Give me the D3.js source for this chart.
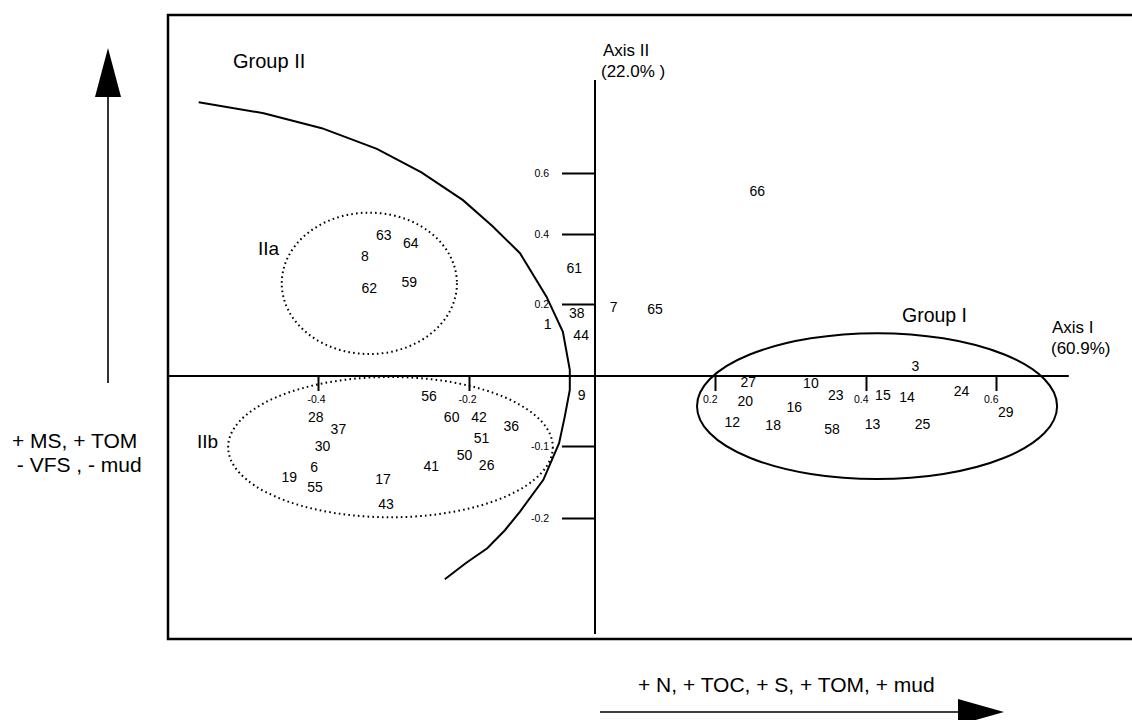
<!DOCTYPE html>
<html><head><meta charset="utf-8">
<script src="https://cdn.jsdelivr.net/npm/d3@7"></script>
<style>
body{margin:0;background:#fff}
svg{display:block}
text{font-family:"Liberation Sans",Arial,Helvetica,sans-serif;fill:#000}
</style>
</head><body>
<svg id="chart" width="1132" height="720"></svg>
<script>
// ---- data (ordination scores) ----
const sampleIds = ["56","28","37","30","6","19","55","17","43","41","60","42","51","36","50","26",
  "3","27","10","20","23","15","14","24","16","29","12","18","58","13","25",
  "63","64","8","62","59",
  "61","7","65","38","1","44","9","66"];
const axisIScores = [-0.253,-0.403,-0.373,-0.394,-0.405,-0.438,-0.404,-0.314,-0.310,-0.250,-0.223,-0.184,-0.180,-0.133,-0.206,-0.172,
  0.476,0.244,0.327,0.240,0.360,0.426,0.463,0.547,0.305,0.615,0.223,0.277,0.355,0.410,0.487,
  -0.313,-0.277,-0.338,-0.332,-0.279,
  -0.033,0.031,0.100,-0.029,-0.075,-0.022,-0.021,0.256];
const axisIIScores = [-0.029,-0.059,-0.076,-0.100,-0.129,-0.143,-0.157,-0.146,-0.181,-0.128,-0.058,-0.059,-0.088,-0.072,-0.1125,-0.126,
  0.028,-0.008,-0.010,-0.036,-0.027,-0.027,-0.030,-0.021,-0.044,-0.052,-0.066,-0.070,-0.076,-0.069,-0.069,
  0.397,0.373,0.337,0.245,0.264,
  0.302,0.193,0.185,0.176,0.144,0.114,-0.027,0.541];

// tick values and labels
const xTickValues = [-0.4,-0.2,0.2,0.4,0.6];
const xTickLabels = ["-0.4","-0.2","0.2","0.4","0.6"];
const yTickValues = [0.6,0.4,0.2,-0.1,-0.2];
const yTickLabels = ["0.6","0.4","0.2","-0.1","-0.2"];

// Group II boundary line (axis I, axis II)
const boundaryI  = [-0.558,-0.472,-0.395,-0.322,-0.263,-0.208,-0.163,-0.119,-0.077,-0.051,-0.040,-0.040,-0.048,-0.057,-0.082,-0.119,-0.143,-0.171,-0.204,-0.232];
const boundaryII = [0.832,0.796,0.747,0.679,0.602,0.511,0.426,0.345,0.221,0.123,0.017,-0.020,-0.058,-0.096,-0.147,-0.191,-0.217,-0.242,-0.2625,-0.285];

// group envelopes: [axisI min, axisI max, axisII min, axisII max]
const groupIEnvelope  = [0.170, 0.694, -0.146, 0.119];
const groupIIaEnvelope = [-0.448, -0.216, 0.061, 0.470];
const groupIIbEnvelope = [-0.519, -0.067, -0.199, -0.0014];

// axis line extents in data units
const axisIExtent = [-0.599, 0.712];
const axisIIExtent = [-0.361, 0.905];

// ---- drawing ----
const svg = d3.select("#chart");

const x = d3.scaleLinear()
  .domain([-0.4,-0.2,0,0.2,0.4,0.6])
  .range([318,469,595,715,866,996]);
const y = d3.scaleLinear()
  .domain([-0.2,-0.1,0,0.2,0.4,0.6])
  .range([518,446,376,304,234,173]);

// frame (right side runs off the page)
svg.append("rect")
  .attr("x",168).attr("y",15).attr("width",1000).attr("height",624)
  .attr("fill","none").attr("stroke","#000").attr("stroke-width",2.5);

// axis lines
svg.append("line")
  .attr("x1",x(axisIExtent[0])).attr("x2",x(axisIExtent[1]))
  .attr("y1",y(0)).attr("y2",y(0))
  .attr("stroke","#000").attr("stroke-width",2);
svg.append("line")
  .attr("x1",x(0)).attr("x2",x(0))
  .attr("y1",y(axisIIExtent[0])).attr("y2",y(axisIIExtent[1]))
  .attr("stroke","#000").attr("stroke-width",2);

// y ticks via d3 axis
const yAxis = d3.axisLeft(y).tickValues(yTickValues)
  .tickFormat((d,i)=>yTickLabels[i]).tickSize(33).tickPadding(13);
const gy = svg.append("g").attr("transform",`translate(${x(0)},0)`).call(yAxis);
gy.select(".domain").remove();
gy.selectAll(".tick line").attr("stroke","#000").attr("stroke-width",2);
gy.selectAll(".tick text").attr("font-size",10.5)
  .style("font-family","'Liberation Sans',Arial,sans-serif").attr("fill","#000");

// x ticks via d3 axis
const xAxis = d3.axisBottom(x).tickValues(xTickValues)
  .tickFormat((d,i)=>xTickLabels[i]).tickSize(15).tickPadding(4);
const gx = svg.append("g").attr("transform",`translate(0,${y(0)})`).call(xAxis);
gx.select(".domain").remove();
gx.selectAll(".tick line").attr("stroke","#000").attr("stroke-width",2);
gx.selectAll(".tick text").attr("font-size",10.5)
  .style("font-family","'Liberation Sans',Arial,sans-serif").attr("fill","#000")
  .attr("text-anchor", d => d < 0 ? "middle" : "end")
  .attr("x", d => d < 0 ? -2 : 2)
  .attr("y", 23).attr("dy","0.35em");

// Group II boundary
const line = d3.line().x(d=>x(d[0])).y(d=>y(d[1])).curve(d3.curveLinear);
svg.append("path")
  .datum(boundaryI.map((v,i)=>[v,boundaryII[i]]))
  .attr("d",line).attr("fill","none").attr("stroke","#000").attr("stroke-width",2);

// envelopes
function envelope(env, dotted){
  const x0 = x(env[0]), x1 = x(env[1]), y0 = y(env[2]), y1 = y(env[3]);
  const e = svg.append("ellipse")
    .attr("cx",(x0+x1)/2).attr("cy",(y0+y1)/2)
    .attr("rx",Math.abs(x1-x0)/2).attr("ry",Math.abs(y1-y0)/2)
    .attr("fill","none").attr("stroke","#000");
  if (dotted) e.attr("stroke-width",2).attr("stroke-dasharray","1.6,3.2");
  else e.attr("stroke-width",2);
}
envelope(groupIEnvelope,false);
envelope(groupIIaEnvelope,true);
envelope(groupIIbEnvelope,true);

// sample labels
svg.append("g").selectAll("text")
  .data(sampleIds.map((id,i)=>({id, a:axisIScores[i], b:axisIIScores[i]})))
  .join("text")
  .attr("x",d=>x(d.a)).attr("y",d=>y(d.b))
  .attr("text-anchor","middle").attr("dy","0.36em")
  .attr("font-size",14)
  .text(d=>d.id);

// annotations
const ann = [
  {t:"Group II", x:233, y:68, s:20},
  {t:"Group I", x:902, y:322, s:19.5},
  {t:"IIa", x:258, y:255, s:19},
  {t:"IIb", x:197, y:448, s:19},
  {t:"Axis I", x:1052, y:333, s:17},
  {t:"(60.9%)", x:1051, y:354, s:17},
  {t:"Axis II", x:603, y:56, s:17},
  {t:"(22.0% )", x:601, y:77, s:17},
  {t:"+ MS, + TOM", x:12, y:448, s:21},
  {t:" - VFS , - mud", x:11, y:472, s:21},
  {t:"+ N, + TOC, + S, + TOM, + mud", x:638, y:692, s:21}
];
svg.append("g").selectAll("text").data(ann).join("text")
  .attr("x",d=>d.x).attr("y",d=>d.y).attr("font-size",d=>d.s)
  .attr("xml:space","preserve").style("white-space","pre")
  .text(d=>d.t);

// direction arrows
svg.append("line").attr("x1",108).attr("x2",108).attr("y1",383).attr("y2",95)
  .attr("stroke","#000").attr("stroke-width",1.6);
svg.append("path").attr("d","M108,48 L95,97 L121,97 Z").attr("fill","#000");
svg.append("line").attr("x1",600).attr("x2",960).attr("y1",712).attr("y2",712)
  .attr("stroke","#000").attr("stroke-width",1.6);
svg.append("path").attr("d","M1004,712 L958,699 L958,725 Z").attr("fill","#000");
</script>
</body></html>
